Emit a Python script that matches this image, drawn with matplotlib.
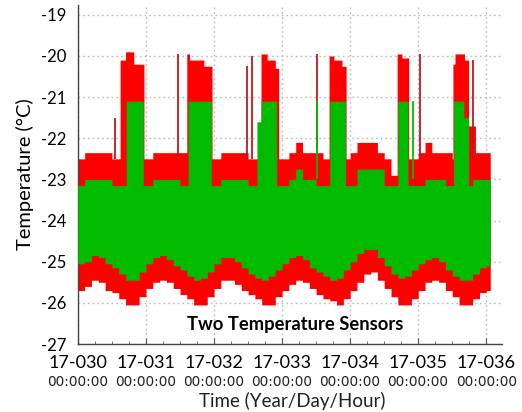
import numpy as np
import matplotlib
matplotlib.use("Agg")
import matplotlib.pyplot as plt
from matplotlib.ticker import MultipleLocator
import matplotlib.transforms as mtransforms

# ---------------- data ----------------
day_start = 30.0          # envelopes given every 0.1 day from 17-030
env_step = 0.1
data_end = 36.06

red_low = [
    -25.7, -25.6, -25.45, -25.5, -25.7, -25.75, -25.9, -26.05, -26.05, -25.85,
    -25.65, -25.5, -25.45, -25.5, -25.65, -25.8, -25.9, -26.05, -26.05, -25.85,
    -25.65, -25.45, -25.45, -25.55, -25.7, -25.8, -25.9, -26.05, -26.05, -25.85,
    -25.7, -25.55, -25.45, -25.5, -25.65, -25.8, -25.9, -25.95, -26.05, -25.9,
    -25.7, -25.5, -25.3, -25.25, -25.45, -25.65, -25.85, -26.05, -26.05, -25.9,
    -25.7, -25.5, -25.45, -25.5, -25.7, -25.85, -26.05, -26.05, -25.9, -25.75,
    -25.7]
green_low = [
    -25.05, -25.0, -24.85, -24.9, -25.05, -25.15, -25.3, -25.45, -25.45, -25.25,
    -25.05, -24.9, -24.85, -24.95, -25.1, -25.2, -25.35, -25.45, -25.4, -25.25,
    -25.05, -24.9, -24.9, -25.0, -25.15, -25.3, -25.4, -25.45, -25.35, -25.2,
    -25.05, -24.9, -24.85, -24.95, -25.15, -25.25, -25.35, -25.45, -25.4, -25.2,
    -25.0, -24.8, -24.7, -24.7, -24.9, -25.1, -25.3, -25.4, -25.35, -25.2,
    -25.05, -24.95, -24.9, -25.0, -25.2, -25.35, -25.45, -25.45, -25.3, -25.15,
    -25.1]
red_top = [
    -22.5, -22.35, -22.35, -22.35, -22.35, -22.5, -22.5, -22.5, -22.5, -22.5,
    -22.5, -22.35, -22.35, -22.35, -22.35, -22.35, -22.35, -22.5, -22.5, -22.5,
    -22.5, -22.35, -22.35, -22.35, -22.35, -22.5, -22.5, -22.5, -22.5, -22.5,
    -22.5, -22.35, -22.1, -22.35, -22.35, -22.35, -22.5, -22.5, -22.5, -22.5,
    -22.35, -22.1, -22.1, -22.1, -22.35, -22.5, -22.9, -22.5, -22.5, -22.5,
    -22.35, -22.1, -22.35, -22.35, -22.35, -22.5, -22.5, -22.5, -22.35, -22.35,
    -22.35]
green_top = [
    -23.15, -23.0, -23.0, -23.0, -23.0, -23.15, -23.15, -23.15, -23.15, -23.15,
    -23.15, -23.0, -23.0, -23.0, -23.0, -23.15, -23.15, -23.15, -23.15, -23.15,
    -23.15, -23.0, -23.0, -23.0, -23.0, -23.15, -23.15, -23.15, -23.15, -23.15,
    -23.15, -23.0, -22.75, -23.0, -23.0, -23.15, -23.15, -23.15, -23.15, -23.15,
    -23.15, -22.75, -22.75, -22.75, -22.75, -23.15, -23.15, -23.15, -23.15, -23.15,
    -23.15, -23.0, -23.0, -23.0, -23.15, -23.15, -23.15, -23.15, -23.0, -23.0,
    -23.0]

red_hot_start = [30.62, 30.70, 30.82, 31.60, 31.64, 31.85, 32.69, 32.78, 32.90,
                 33.69, 33.76, 33.88, 34.69, 34.76, 35.51, 35.54, 35.68, 35.74]
red_hot_end = [30.70, 30.82, 30.97, 31.64, 31.85, 31.97, 32.78, 32.90, 32.95,
               33.76, 33.88, 33.94, 34.76, 34.86, 35.54, 35.68, 35.74, 35.84]
red_hot_top = [-20.1, -19.9, -20.2, -19.95, -20.1, -20.25, -19.95, -20.1, -20.3,
               -20.0, -20.1, -20.25, -19.95, -20.05, -20.2, -19.95, -20.1, -21.7]

green_hot_start = [30.71, 31.62, 32.63, 32.69, 33.70, 34.70, 35.52, 35.67]
green_hot_end = [30.96, 31.96, 32.69, 32.92, 33.93, 34.85, 35.67, 35.74]
green_hot_top = [-21.1, -21.1, -21.6, -21.1, -21.1, -21.1, -21.1, -21.5]

red_spike_t = [30.0, 30.54, 31.47, 32.48, 32.56, 33.51, 35.03, 35.81]
red_spike_top = [-19.9, -21.5, -19.95, -20.25, -20.0, -19.95, -19.95, -20.1]
green_spike_t = [33.51, 34.92]
green_spike_top = [-21.1, -21.1]

tick_days = [30, 31, 32, 33, 34, 35, 36]
tick_labels = ["17-030", "17-031", "17-032", "17-033", "17-034", "17-035", "17-036"]
tick_sub = "00:00:00"
y_ticks = [-27, -26, -25, -24, -23, -22, -21, -20, -19]

RED = "#FF0000"
GREEN = "#00BB00"
DARKRED = "#C01A1A"

# --------------- build step envelopes on a fine grid ---------------
t = np.arange(day_start, data_end, 0.002)
idx = np.clip(((t - day_start) / env_step).astype(int), 0, len(red_low) - 1)
r_lo = np.array(red_low)[idx]
g_lo = np.array(green_low)[idx]
r_hi = np.array(red_top)[idx].copy()
g_hi = np.array(green_top)[idx].copy()
for s, e, v in zip(red_hot_start, red_hot_end, red_hot_top):
    m = (t >= s) & (t < e)
    r_hi[m] = np.maximum(r_hi[m], v)
for s, e, v in zip(green_hot_start, green_hot_end, green_hot_top):
    m = (t >= s) & (t < e)
    g_hi[m] = np.maximum(g_hi[m], v)

# ---------------- figure ----------------
fig = plt.figure(figsize=(5.22, 4.12), dpi=100)
ax = fig.add_axes([0.149, 0.165, 0.813, 0.823])

ax.fill_between(t, r_lo, r_hi, step="post", color=RED, linewidth=0, zorder=2)
ax.vlines(red_spike_t, -22.5, red_spike_top, color=DARKRED, linewidth=1.3, zorder=2.5)
ax.fill_between(t, g_lo, g_hi, step="post", color=GREEN, linewidth=0, zorder=3)
ax.vlines(green_spike_t, -23.0, green_spike_top, color=GREEN, linewidth=1.3, zorder=3.5)

ax.set_xlim(30, 36.235)
ax.set_ylim(-27, -18.76)

ax.set_yticks(y_ticks)
ax.set_yticklabels([str(v) for v in y_ticks], fontsize=12, family="Lato")
ax.set_xticks(tick_days)
ax.set_xticklabels(tick_labels, fontsize=13, family="Lato")
ax.xaxis.set_minor_locator(MultipleLocator(0.25))
ax.tick_params(axis="x", which="major", direction="in", length=4, pad=8, color="#555555")
ax.tick_params(axis="x", which="minor", direction="in", length=2.5, color="#555555")
ax.tick_params(axis="y", which="major", direction="in", length=0, pad=8)

trans = mtransforms.blended_transform_factory(ax.transData, ax.transAxes)
for d in tick_days:
    ax.text(d, -0.112, tick_sub, transform=trans, ha="center", va="center",
            fontsize=9.8, family="DejaVu Sans", color="#222222")

ax.grid(True, which="major", linestyle=(0, (1.2, 2.2)), color="#BBBBBB", linewidth=1.0, zorder=0)
ax.set_axisbelow(True)

for s in ["top", "right"]:
    ax.spines[s].set_visible(False)
for s in ["left", "bottom"]:
    ax.spines[s].set_color("#444444")
    ax.spines[s].set_linewidth(1.0)

ax.set_ylabel("Temperature (°C)", fontsize=14.5, family="Lato", labelpad=5)
fig.text(292 / 522, 1 - 401 / 412, "Time (Year/Day/Hour)", ha="center", va="center",
         fontsize=13.5, family="Lato", color="#222222")

ax.text(33.2, -26.52, "Two Temperature Sensors", ha="center", va="center",
        fontsize=13.2, family="Lato", fontweight="bold", zorder=5)

fig.savefig("out.png", dpi=100)
